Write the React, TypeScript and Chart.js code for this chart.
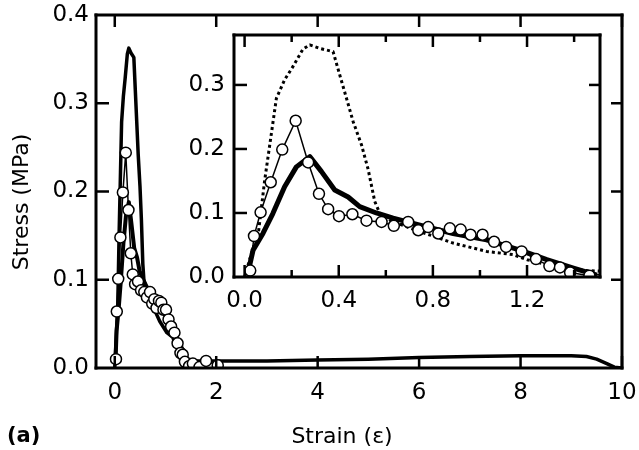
import { useEffect, useRef } from "react"
import { Chart, registerables } from "chart.js"

Chart.register(...registerables)

// sample with the big peak (dotted in the inset), runs out to strain 10
const strainA = [0, 0.03, 0.06, 0.085, 0.113, 0.135, 0.17, 0.206, 0.248, 0.277, 0.32, 0.376, 0.404, 0.433, 0.461, 0.497, 0.525, 0.553, 0.574, 0.631, 0.745, 0.886, 1.028, 1.14, 1.2, 1.3, 1.45, 1.6, 2, 3, 4, 5, 6, 7, 8, 9, 9.3, 9.5, 9.7, 9.85, 10]
const stressA = [0, 0.038, 0.073, 0.15, 0.222, 0.279, 0.308, 0.329, 0.356, 0.3625, 0.357, 0.352, 0.316, 0.279, 0.243, 0.206, 0.168, 0.118, 0.1, 0.086, 0.071, 0.053, 0.04, 0.035, 0.027, 0.018, 0.01, 0.008, 0.008, 0.008, 0.009, 0.01, 0.012, 0.013, 0.014, 0.014, 0.013, 0.01, 0.005, 0.001, 0]

// thick solid line
const strainB = [0.014, 0.036, 0.078, 0.12, 0.17, 0.22, 0.277, 0.326, 0.383, 0.44, 0.489, 0.56, 0.631, 0.745, 0.886, 1.028, 1.17, 1.284, 1.397, 1.497]
const stressB = [0.006, 0.042, 0.068, 0.099, 0.141, 0.172, 0.188, 0.165, 0.136, 0.125, 0.11, 0.1, 0.092, 0.081, 0.068, 0.058, 0.042, 0.027, 0.014, 0.003]

// open circles
const strainC = [0.024, 0.04, 0.068, 0.111, 0.16, 0.217, 0.27, 0.316, 0.355, 0.401, 0.458, 0.518, 0.582, 0.634, 0.695, 0.738, 0.78, 0.823, 0.872, 0.918, 0.96, 1.011, 1.06, 1.111, 1.177, 1.238, 1.295, 1.34, 1.383, 1.465, 1.54, 1.67, 1.8, 2.03]
const stressC = [0.01, 0.064, 0.101, 0.148, 0.199, 0.244, 0.179, 0.13, 0.106, 0.095, 0.098, 0.088, 0.086, 0.08, 0.086, 0.073, 0.078, 0.068, 0.076, 0.074, 0.066, 0.066, 0.055, 0.047, 0.04, 0.028, 0.017, 0.015, 0.007, 0.002, 0.005, 0.001, 0.008, 0.003]

const mainXTicks = [0, 2, 4, 6, 8, 10]
const mainYTicks = [0, 0.1, 0.2, 0.3, 0.4]
const insetXTicks = [0, 0.4, 0.8, 1.2]
const insetXMinor = [0.2, 0.6, 1.0, 1.4]
const insetYTicks = [0, 0.1, 0.2, 0.3]

const FONT = "'DejaVu Sans', Verdana, sans-serif"
const INSET_LEFT = 180
const INSET_TOP = 28

const pts = (xs: number[], ys: number[]) => xs.map((x, i) => ({ x, y: ys[i] }))

// frame + inward ticks, painted on a separate overlay canvas from the chart's scales
function drawBox(
  ctx: CanvasRenderingContext2D, chart: any, dx: number, dy: number,
  xMajor: number[], xMinor: number[], yMajor: number[],
) {
  const a = chart.chartArea
  const sx = chart.scales.x
  const sy = chart.scales.y
  ctx.save()
  ctx.translate(dx, dy)
  ctx.fillStyle = "#000"
  const w = 3
  ctx.fillRect(a.left - w / 2, a.top - w / 2, a.right - a.left + w, w)
  ctx.fillRect(a.left - w / 2, a.bottom - w / 2, a.right - a.left + w, w)
  ctx.fillRect(a.left - w / 2, a.top - w / 2, w, a.bottom - a.top + w)
  ctx.fillRect(a.right - w / 2, a.top - w / 2, w, a.bottom - a.top + w)
  const xt = (v: number, len: number) => {
    const px = sx.getPixelForValue(v)
    ctx.fillRect(px - 1.25, a.bottom - len, 2.5, len)
    ctx.fillRect(px - 1.25, a.top, 2.5, len)
  }
  xMajor.forEach((v) => xt(v, 12))
  xMinor.forEach((v) => xt(v, 7))
  yMajor.forEach((v) => {
    const py = sy.getPixelForValue(v)
    ctx.fillRect(a.left, py - 1.25, 13, 2.5)
    ctx.fillRect(a.right - 11, py - 1.25, 11, 2.5)
  })
  ctx.restore()
}

const labelsPlugin = {
  id: "labels",
  afterDraw(chart: any) {
    const { ctx } = chart
    ctx.save()
    ctx.fillStyle = "#000"
    ctx.textBaseline = "middle"
    ctx.textAlign = "center"
    ctx.font = `22px ${FONT}`
    ctx.fillText("Strain (ε)", 342, 437)
    ctx.textAlign = "left"
    ctx.font = `bold 21px ${FONT}`
    ctx.fillText("(a)", 7, 437)
    ctx.translate(22, 202)
    ctx.rotate(-Math.PI / 2)
    ctx.textAlign = "center"
    ctx.font = `22px ${FONT}`
    ctx.fillText("Stress (MPa)", 0, 0)
    ctx.restore()
  },
}

function datasets(thick: number, dotted: boolean) {
  return [
    {
      data: pts(strainC, stressC),
      borderColor: "#000",
      borderWidth: 1.5,
      pointRadius: 5.5,
      pointBorderWidth: 1.5,
      pointBackgroundColor: "#fff",
      pointBorderColor: "#000",
    },
    {
      data: pts(strainB, stressB),
      borderColor: "#000",
      borderWidth: thick,
      borderJoinStyle: "round" as const,
      pointRadius: 0,
    },
    {
      data: pts(strainA, stressA),
      borderColor: "#000",
      borderWidth: dotted ? 3 : 3.5,
      borderDash: dotted ? [3, 3] : [],
      borderJoinStyle: "round" as const,
      pointRadius: 0,
    },
  ]
}

function axes(
  xMin: number, xMax: number, xTicks: number[], xFmt: (v: number) => string, xHeight: number, xPad: number,
  yMax: number, yTicks: number[], yWidth: number, yPad: number,
) {
  const tickFont = { family: FONT, size: 23 }
  return {
    x: {
      type: "linear" as const,
      min: xMin,
      max: xMax,
      grid: { display: false, drawTicks: false },
      border: { display: false },
      afterBuildTicks: (s: any) => { s.ticks = xTicks.map((value) => ({ value })) },
      afterFit: (s: any) => {
        s.height = xHeight
        s.paddingLeft = 0
        s.paddingRight = 0
      },
      ticks: { color: "#000", font: tickFont, padding: xPad, maxRotation: 0, autoSkip: false, callback: (v: any) => xFmt(Number(v)) },
    },
    y: {
      type: "linear" as const,
      min: 0,
      max: yMax,
      grid: { display: false, drawTicks: false },
      border: { display: false },
      afterBuildTicks: (s: any) => { s.ticks = yTicks.map((value) => ({ value })) },
      afterFit: (s: any) => {
        s.width = yWidth
        s.paddingTop = 0
        s.paddingBottom = 0
      },
      ticks: { color: "#000", font: tickFont, padding: yPad, autoSkip: false, callback: (v: any) => Number(v).toFixed(1) },
    },
  }
}

export default function App() {
  const mainRef = useRef<HTMLCanvasElement>(null)
  const insetRef = useRef<HTMLCanvasElement>(null)
  const overlayRef = useRef<HTMLCanvasElement>(null)

  useEffect(() => {
    if (!mainRef.current || !insetRef.current || !overlayRef.current) return

    const main = new Chart(mainRef.current, {
      type: "line",
      data: { datasets: datasets(4, false) as any },
      options: {
        animation: false,
        responsive: false,
        layout: { padding: { top: 15, right: 17, left: 0, bottom: 0 } },
        plugins: { legend: { display: false }, tooltip: { enabled: false } },
        scales: axes(-0.37, 10, mainXTicks, (v) => String(v), 82, 11, 0.4, mainYTicks, 96, 7) as any,
      },
      plugins: [labelsPlugin],
    })

    const inset = new Chart(insetRef.current, {
      type: "line",
      data: { datasets: datasets(5, true) as any },
      options: {
        animation: false,
        responsive: false,
        layout: { padding: { top: 7, right: 8, left: 0, bottom: 0 } },
        plugins: { legend: { display: false }, tooltip: { enabled: false } },
        scales: axes(-0.045, 1.51, insetXTicks, (v) => v.toFixed(1), 41, 10, 0.378, insetYTicks, 54, 9) as any,
      },
    })

    const octx = overlayRef.current.getContext("2d")
    if (octx) {
      octx.clearRect(0, 0, 639, 450)
      drawBox(octx, main, 0, 0, mainXTicks, [], mainYTicks.slice(1, 4))
      drawBox(octx, inset, INSET_LEFT, INSET_TOP, insetXTicks, insetXMinor, insetYTicks.slice(1))
    }

    return () => {
      main.destroy()
      inset.destroy()
      if (octx) octx.clearRect(0, 0, 639, 450)
    }
  }, [])

  return (
    <div style={{ position: "absolute", left: 0, top: 0, width: 639, height: 450, background: "#fff" }}>
      <canvas ref={mainRef} width={639} height={450} style={{ position: "absolute", left: 0, top: 0, width: 639, height: 450 }} />
      <canvas ref={insetRef} width={428} height={290} style={{ position: "absolute", left: INSET_LEFT, top: INSET_TOP, width: 428, height: 290 }} />
      <canvas ref={overlayRef} width={639} height={450} style={{ position: "absolute", left: 0, top: 0, width: 639, height: 450, pointerEvents: "none" }} />
    </div>
  )
}
